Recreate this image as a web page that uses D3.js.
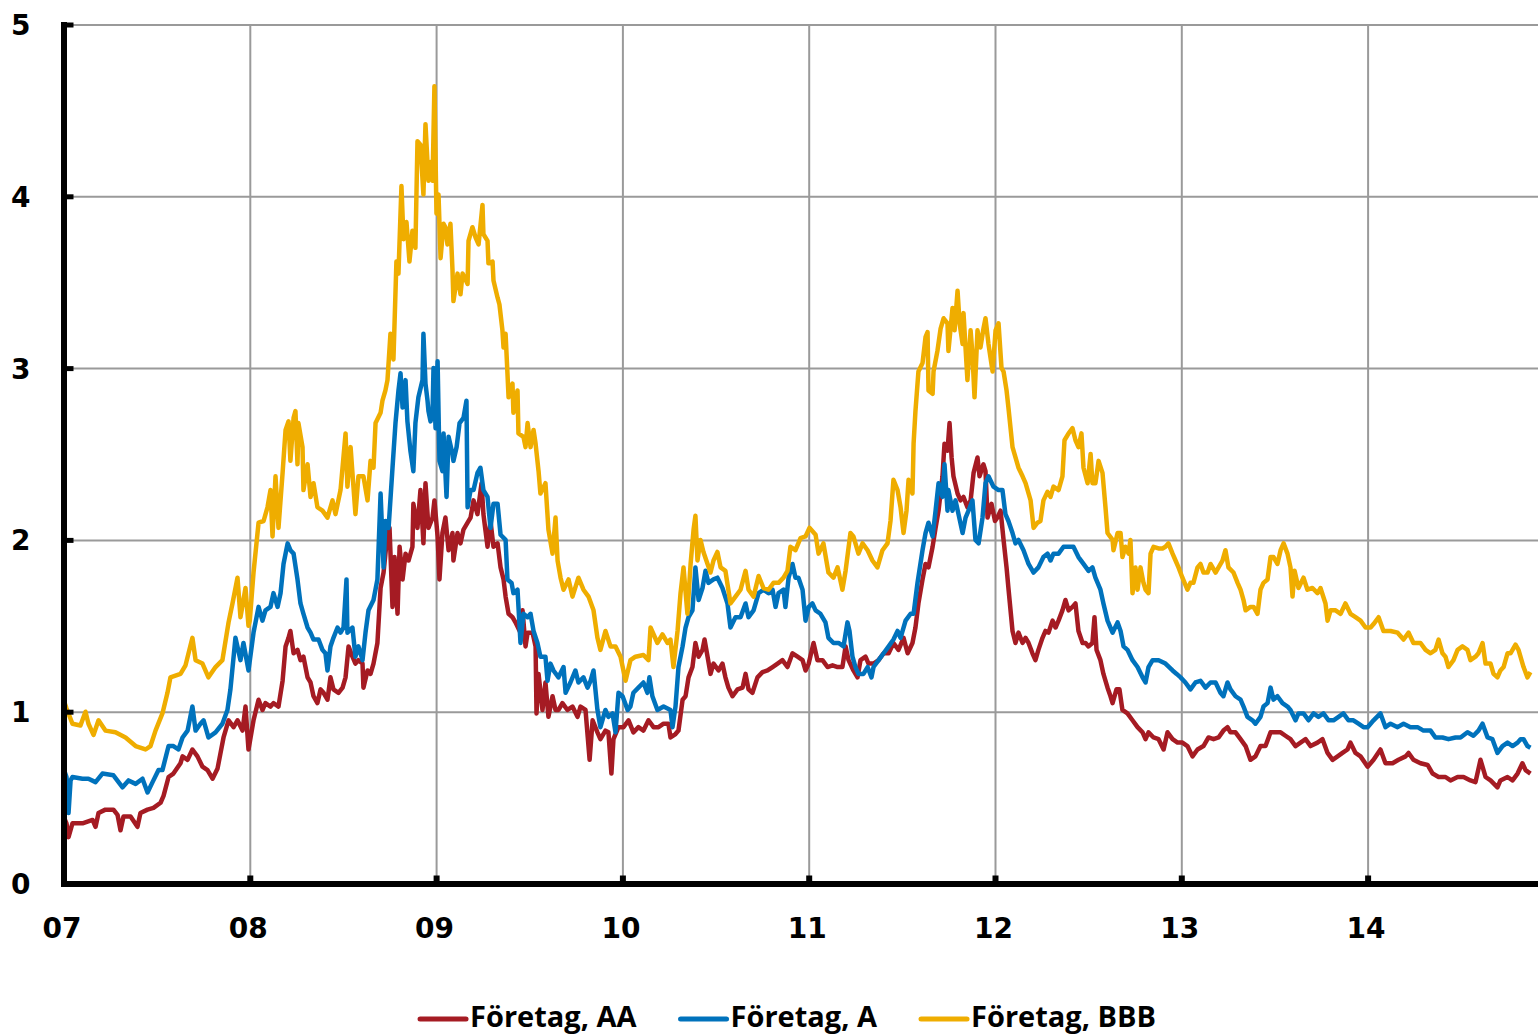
<!DOCTYPE html>
<html>
<head>
<meta charset="utf-8">
<script src="https://cdn.jsdelivr.net/npm/d3@7"></script>
<style>
  body { margin: 0; background: #fff; }
  .tick text { font-family: "DejaVu Sans", sans-serif; font-weight: bold; font-size: 28px; fill: #000; }
  .legend text { font-family: "Open Sans", sans-serif; font-weight: 700; font-size: 29px; fill: #000; }
</style>
</head>
<body>
<div id="chart"></div>
<script>
var svgWidth = 1538;
var svgHeight = 1036;

// values, [year, percent]
var foretagAA = [[2007.000,0.39],[2007.016,0.35],[2007.027,0.27],[2007.048,0.35],[2007.102,0.35],[2007.156,0.37],[2007.172,0.33],[2007.188,0.41],[2007.225,0.43],[2007.268,0.43],[2007.290,0.40],[2007.306,0.31],[2007.322,0.39],[2007.360,0.39],[2007.397,0.33],[2007.413,0.41],[2007.451,0.43],[2007.483,0.44],[2007.521,0.47],[2007.537,0.51],[2007.564,0.62],[2007.590,0.64],[2007.628,0.70],[2007.639,0.74],[2007.666,0.72],[2007.692,0.78],[2007.719,0.74],[2007.746,0.68],[2007.773,0.66],[2007.800,0.61],[2007.827,0.67],[2007.843,0.76],[2007.859,0.85],[2007.886,0.95],[2007.913,0.91],[2007.934,0.95],[2007.961,0.89],[2007.977,1.03],[2007.993,0.78],
[2008.020,0.95],[2008.047,1.07],[2008.068,1.01],[2008.084,1.05],[2008.111,1.03],[2008.127,1.05],[2008.154,1.03],[2008.176,1.18],[2008.192,1.38],[2008.208,1.43],[2008.218,1.47],[2008.235,1.34],[2008.256,1.36],[2008.272,1.30],[2008.288,1.32],[2008.310,1.20],[2008.326,1.17],[2008.342,1.09],[2008.363,1.05],[2008.380,1.13],[2008.396,1.11],[2008.417,1.07],[2008.433,1.20],[2008.449,1.13],[2008.476,1.11],[2008.498,1.14],[2008.514,1.20],[2008.530,1.38],[2008.551,1.32],[2008.567,1.28],[2008.583,1.30],[2008.605,1.28],[2008.610,1.14],[2008.632,1.24],[2008.648,1.22],[2008.664,1.28],[2008.685,1.40],[2008.702,1.72],[2008.718,1.81],[2008.739,2.04],[2008.750,2.07],[2008.766,1.61],[2008.777,1.90],[2008.793,1.57],[2008.804,1.96],[2008.820,1.77],[2008.836,1.92],[2008.852,1.88],[2008.873,1.96],[2008.878,2.21],[2008.900,2.07],[2008.916,2.29],[2008.932,1.98],[2008.943,2.33],[2008.959,2.07],[2008.981,2.13],[2008.991,2.23],
[2009.008,2.02],[2009.018,1.77],[2009.034,2.04],[2009.050,2.13],[2009.067,1.94],[2009.088,2.04],[2009.093,1.88],[2009.115,2.04],[2009.131,1.98],[2009.147,2.06],[2009.169,2.10],[2009.185,2.13],[2009.201,2.23],[2009.222,2.15],[2009.244,2.33],[2009.254,2.15],[2009.276,1.96],[2009.292,2.11],[2009.308,1.96],[2009.330,1.98],[2009.346,1.84],[2009.362,1.77],[2009.373,1.67],[2009.389,1.57],[2009.410,1.55],[2009.426,1.52],[2009.453,1.46],[2009.464,1.59],[2009.480,1.38],[2009.491,1.46],[2009.518,1.46],[2009.534,1.38],[2009.539,0.99],[2009.550,1.22],[2009.571,1.01],[2009.587,1.17],[2009.603,0.97],[2009.625,1.09],[2009.641,1.01],[2009.657,1.01],[2009.678,1.05],[2009.705,1.01],[2009.732,1.03],[2009.759,0.97],[2009.775,1.03],[2009.802,1.01],[2009.824,0.72],[2009.840,0.95],[2009.866,0.88],[2009.882,0.84],[2009.909,0.89],[2009.925,0.88],[2009.941,0.64],[2009.952,0.84],[2009.979,0.91],
[2010.006,0.91],[2010.033,0.95],[2010.059,0.88],[2010.086,0.91],[2010.113,0.89],[2010.140,0.95],[2010.167,0.91],[2010.194,0.91],[2010.221,0.93],[2010.247,0.93],[2010.258,0.85],[2010.285,0.87],[2010.301,0.89],[2010.323,1.07],[2010.339,1.09],[2010.355,1.20],[2010.376,1.26],[2010.392,1.40],[2010.409,1.32],[2010.430,1.36],[2010.441,1.42],[2010.457,1.32],[2010.473,1.22],[2010.489,1.28],[2010.516,1.24],[2010.537,1.28],[2010.553,1.20],[2010.569,1.14],[2010.591,1.09],[2010.618,1.13],[2010.645,1.14],[2010.661,1.22],[2010.677,1.13],[2010.698,1.11],[2010.725,1.20],[2010.752,1.23],[2010.779,1.24],[2010.806,1.26],[2010.833,1.28],[2010.859,1.30],[2010.886,1.26],[2010.913,1.34],[2010.940,1.32],[2010.967,1.30],[2010.983,1.24],
[2011.000,1.28],[2011.026,1.40],[2011.047,1.30],[2011.074,1.30],[2011.101,1.26],[2011.128,1.27],[2011.155,1.26],[2011.181,1.26],[2011.198,1.38],[2011.214,1.30],[2011.240,1.24],[2011.262,1.20],[2011.278,1.30],[2011.305,1.32],[2011.321,1.28],[2011.348,1.28],[2011.375,1.30],[2011.402,1.34],[2011.429,1.34],[2011.455,1.40],[2011.482,1.36],[2011.509,1.43],[2011.531,1.34],[2011.557,1.40],[2011.573,1.49],[2011.589,1.63],[2011.611,1.77],[2011.627,1.86],[2011.643,1.84],[2011.665,1.96],[2011.681,2.07],[2011.697,2.17],[2011.718,2.37],[2011.729,2.56],[2011.745,2.52],[2011.756,2.68],[2011.767,2.48],[2011.777,2.37],[2011.799,2.27],[2011.815,2.23],[2011.831,2.25],[2011.852,2.19],[2011.869,2.23],[2011.885,2.39],[2011.906,2.48],[2011.917,2.37],[2011.938,2.44],[2011.949,2.40],[2011.960,2.13],[2011.981,2.21],
[2012.000,2.11],[2012.013,2.13],[2012.030,2.17],[2012.046,2.00],[2012.062,1.84],[2012.072,1.72],[2012.094,1.47],[2012.110,1.40],[2012.126,1.46],[2012.148,1.40],[2012.164,1.43],[2012.180,1.40],[2012.201,1.34],[2012.217,1.30],[2012.233,1.36],[2012.255,1.43],[2012.271,1.47],[2012.287,1.46],[2012.309,1.53],[2012.325,1.49],[2012.341,1.53],[2012.362,1.59],[2012.378,1.65],[2012.395,1.59],[2012.416,1.61],[2012.432,1.63],[2012.448,1.47],[2012.470,1.40],[2012.486,1.40],[2012.502,1.38],[2012.523,1.40],[2012.534,1.55],[2012.545,1.36],[2012.566,1.30],[2012.582,1.22],[2012.604,1.14],[2012.620,1.09],[2012.631,1.05],[2012.652,1.13],[2012.668,1.13],[2012.684,1.01],[2012.711,0.99],[2012.738,0.95],[2012.765,0.91],[2012.792,0.88],[2012.808,0.84],[2012.824,0.88],[2012.851,0.85],[2012.878,0.84],[2012.905,0.78],[2012.926,0.88],[2012.953,0.84],[2012.980,0.82],
[2013.006,0.82],[2013.033,0.80],[2013.060,0.74],[2013.087,0.78],[2013.119,0.80],[2013.146,0.85],[2013.173,0.84],[2013.200,0.85],[2013.226,0.89],[2013.248,0.91],[2013.264,0.88],[2013.291,0.88],[2013.318,0.84],[2013.345,0.80],[2013.371,0.72],[2013.398,0.74],[2013.425,0.80],[2013.452,0.80],[2013.479,0.88],[2013.506,0.88],[2013.533,0.88],[2013.559,0.86],[2013.586,0.84],[2013.613,0.80],[2013.640,0.82],[2013.667,0.84],[2013.694,0.80],[2013.731,0.82],[2013.758,0.84],[2013.785,0.76],[2013.812,0.72],[2013.839,0.74],[2013.865,0.76],[2013.892,0.78],[2013.908,0.82],[2013.935,0.76],[2013.962,0.74],
[2014.000,0.68],[2014.032,0.72],[2014.069,0.78],[2014.096,0.70],[2014.134,0.70],[2014.166,0.72],[2014.204,0.74],[2014.220,0.76],[2014.246,0.72],[2014.284,0.70],[2014.322,0.69],[2014.349,0.64],[2014.381,0.62],[2014.418,0.62],[2014.445,0.60],[2014.483,0.62],[2014.515,0.62],[2014.552,0.60],[2014.579,0.59],[2014.606,0.72],[2014.633,0.62],[2014.660,0.60],[2014.697,0.56],[2014.713,0.60],[2014.751,0.62],[2014.778,0.60],[2014.805,0.64],[2014.831,0.70],[2014.848,0.66],[2014.874,0.64]];

var foretagA = [[2007.000,0.67],[2007.016,0.62],[2007.027,0.41],[2007.038,0.60],[2007.048,0.62],[2007.102,0.61],[2007.134,0.61],[2007.172,0.59],[2007.209,0.64],[2007.268,0.63],[2007.317,0.56],[2007.349,0.60],[2007.387,0.58],[2007.424,0.61],[2007.451,0.53],[2007.478,0.59],[2007.510,0.66],[2007.531,0.66],[2007.564,0.80],[2007.590,0.80],[2007.617,0.78],[2007.639,0.85],[2007.666,0.89],[2007.692,1.03],[2007.709,0.89],[2007.735,0.93],[2007.752,0.95],[2007.778,0.85],[2007.816,0.88],[2007.853,0.93],[2007.880,1.01],[2007.896,1.13],[2007.923,1.43],[2007.950,1.30],[2007.966,1.40],[2007.993,1.24],
[2008.020,1.46],[2008.047,1.61],[2008.068,1.53],[2008.084,1.59],[2008.111,1.61],[2008.127,1.69],[2008.149,1.61],[2008.165,1.69],[2008.181,1.86],[2008.203,1.98],[2008.218,1.94],[2008.235,1.92],[2008.256,1.77],[2008.272,1.63],[2008.288,1.57],[2008.310,1.49],[2008.326,1.46],[2008.342,1.42],[2008.369,1.42],[2008.390,1.36],[2008.406,1.34],[2008.417,1.24],[2008.433,1.38],[2008.449,1.43],[2008.471,1.49],[2008.487,1.46],[2008.503,1.49],[2008.519,1.77],[2008.524,1.46],[2008.551,1.49],[2008.567,1.32],[2008.583,1.38],[2008.605,1.30],[2008.621,1.46],[2008.637,1.59],[2008.664,1.65],[2008.685,1.77],[2008.702,2.27],[2008.718,1.84],[2008.728,2.11],[2008.745,2.07],[2008.766,2.42],[2008.782,2.68],[2008.798,2.87],[2008.809,2.97],[2008.820,2.77],[2008.836,2.93],[2008.846,2.69],[2008.862,2.52],[2008.878,2.40],[2008.889,2.68],[2008.905,2.83],[2008.927,2.93],[2008.932,3.20],[2008.943,2.91],[2008.954,2.81],[2008.959,2.75],[2008.970,2.69],[2008.981,2.74],[2008.986,3.00],[2008.997,2.65],
[2009.008,3.04],[2009.018,2.46],[2009.034,2.40],[2009.040,2.62],[2009.056,2.25],[2009.067,2.60],[2009.088,2.50],[2009.093,2.46],[2009.110,2.54],[2009.126,2.68],[2009.147,2.71],[2009.163,2.81],[2009.169,2.19],[2009.185,2.29],[2009.201,2.29],[2009.222,2.39],[2009.238,2.42],[2009.254,2.29],[2009.276,2.25],[2009.292,2.07],[2009.308,2.21],[2009.330,2.21],[2009.346,2.03],[2009.373,2.00],[2009.383,1.77],[2009.405,1.75],[2009.415,1.69],[2009.437,1.71],[2009.453,1.40],[2009.469,1.57],[2009.491,1.55],[2009.507,1.57],[2009.523,1.47],[2009.544,1.40],[2009.560,1.32],[2009.587,1.32],[2009.598,1.18],[2009.614,1.28],[2009.630,1.24],[2009.657,1.20],[2009.684,1.26],[2009.695,1.11],[2009.721,1.17],[2009.748,1.24],[2009.764,1.17],[2009.791,1.20],[2009.813,1.14],[2009.829,1.18],[2009.845,1.24],[2009.866,1.01],[2009.882,0.91],[2009.909,1.01],[2009.925,0.97],[2009.947,0.99],[2009.963,0.88],[2009.979,1.11],
[2010.001,1.09],[2010.028,1.01],[2010.043,1.03],[2010.059,1.11],[2010.086,1.14],[2010.113,1.17],[2010.134,1.11],[2010.145,1.20],[2010.161,1.09],[2010.188,1.01],[2010.221,1.03],[2010.258,1.01],[2010.269,0.91],[2010.285,1.03],[2010.301,1.26],[2010.323,1.38],[2010.339,1.49],[2010.355,1.55],[2010.376,1.59],[2010.392,1.84],[2010.409,1.65],[2010.430,1.72],[2010.446,1.82],[2010.462,1.75],[2010.489,1.77],[2010.510,1.78],[2010.537,1.72],[2010.564,1.63],[2010.580,1.49],[2010.607,1.55],[2010.634,1.55],[2010.661,1.63],[2010.677,1.55],[2010.704,1.59],[2010.731,1.69],[2010.757,1.71],[2010.784,1.69],[2010.806,1.71],[2010.822,1.61],[2010.838,1.69],[2010.865,1.71],[2010.875,1.61],[2010.892,1.78],[2010.913,1.86],[2010.929,1.78],[2010.945,1.78],[2010.967,1.71],[2010.983,1.53],
[2011.000,1.61],[2011.020,1.63],[2011.037,1.59],[2011.063,1.57],[2011.090,1.52],[2011.106,1.43],[2011.133,1.40],[2011.160,1.40],[2011.187,1.38],[2011.208,1.52],[2011.219,1.47],[2011.235,1.32],[2011.251,1.26],[2011.267,1.22],[2011.294,1.22],[2011.316,1.26],[2011.337,1.20],[2011.348,1.26],[2011.375,1.30],[2011.402,1.34],[2011.429,1.38],[2011.455,1.42],[2011.477,1.47],[2011.493,1.43],[2011.520,1.53],[2011.547,1.57],[2011.563,1.57],[2011.584,1.75],[2011.611,1.94],[2011.627,2.04],[2011.643,2.10],[2011.665,2.02],[2011.681,2.17],[2011.697,2.33],[2011.718,2.25],[2011.729,2.44],[2011.745,2.17],[2011.750,2.29],[2011.772,2.17],[2011.788,2.23],[2011.804,2.15],[2011.826,2.04],[2011.842,2.13],[2011.858,2.17],[2011.879,2.23],[2011.895,2.00],[2011.912,1.98],[2011.933,2.13],[2011.949,2.33],[2011.965,2.37],[2011.992,2.31],
[2012.019,2.29],[2012.040,2.29],[2012.056,2.15],[2012.072,2.11],[2012.094,2.04],[2012.110,1.98],[2012.126,2.00],[2012.153,1.94],[2012.180,1.86],[2012.207,1.81],[2012.233,1.84],[2012.260,1.90],[2012.282,1.92],[2012.298,1.88],[2012.314,1.92],[2012.341,1.92],[2012.368,1.96],[2012.395,1.96],[2012.421,1.96],[2012.448,1.90],[2012.475,1.86],[2012.502,1.82],[2012.523,1.84],[2012.539,1.78],[2012.566,1.71],[2012.582,1.63],[2012.604,1.53],[2012.631,1.46],[2012.658,1.52],[2012.674,1.47],[2012.690,1.38],[2012.711,1.36],[2012.738,1.30],[2012.765,1.26],[2012.792,1.20],[2012.808,1.17],[2012.824,1.26],[2012.846,1.30],[2012.878,1.30],[2012.915,1.28],[2012.953,1.24],[2012.975,1.22],[2012.996,1.20],
[2013.022,1.17],[2013.049,1.13],[2013.076,1.17],[2013.103,1.18],[2013.130,1.14],[2013.157,1.17],[2013.184,1.17],[2013.210,1.11],[2013.226,1.09],[2013.248,1.17],[2013.264,1.13],[2013.291,1.09],[2013.318,1.07],[2013.334,1.03],[2013.355,0.97],[2013.382,0.95],[2013.398,0.93],[2013.425,0.97],[2013.441,1.03],[2013.463,1.05],[2013.479,1.14],[2013.495,1.07],[2013.516,1.09],[2013.543,1.05],[2013.570,1.03],[2013.586,1.01],[2013.613,0.95],[2013.629,0.99],[2013.656,0.99],[2013.683,0.95],[2013.710,0.99],[2013.736,0.97],[2013.763,0.99],[2013.790,0.95],[2013.817,0.95],[2013.844,0.97],[2013.870,0.99],[2013.897,0.95],[2013.924,0.95],[2013.951,0.93],[2013.978,0.91],
[2014.000,0.91],[2014.032,0.95],[2014.069,0.99],[2014.096,0.91],[2014.123,0.93],[2014.161,0.91],[2014.193,0.93],[2014.230,0.91],[2014.268,0.91],[2014.300,0.89],[2014.338,0.89],[2014.364,0.85],[2014.402,0.85],[2014.434,0.84],[2014.472,0.85],[2014.499,0.85],[2014.536,0.88],[2014.568,0.86],[2014.595,0.89],[2014.617,0.93],[2014.644,0.85],[2014.670,0.84],[2014.697,0.76],[2014.724,0.80],[2014.751,0.82],[2014.778,0.80],[2014.805,0.82],[2014.821,0.84],[2014.837,0.84],[2014.858,0.80],[2014.874,0.79]];

var foretagBBB = [[2007.000,1.07],[2007.016,1.02],[2007.048,0.93],[2007.091,0.92],[2007.118,1.00],[2007.134,0.93],[2007.161,0.865],[2007.188,0.95],[2007.225,0.89],[2007.279,0.88],[2007.333,0.85],[2007.387,0.80],[2007.440,0.78],[2007.467,0.80],[2007.494,0.89],[2007.531,0.99],[2007.558,1.11],[2007.574,1.20],[2007.628,1.22],[2007.655,1.27],[2007.692,1.43],[2007.709,1.30],[2007.746,1.28],[2007.778,1.20],[2007.816,1.26],[2007.853,1.30],[2007.886,1.52],[2007.907,1.63],[2007.934,1.78],[2007.950,1.55],[2007.977,1.72],[2007.993,1.50],
[2008.000,1.53],[2008.020,1.81],[2008.047,2.10],[2008.074,2.11],[2008.095,2.19],[2008.111,2.29],[2008.122,2.02],[2008.138,2.37],[2008.154,2.07],[2008.176,2.39],[2008.192,2.64],[2008.208,2.69],[2008.218,2.46],[2008.235,2.71],[2008.245,2.75],[2008.256,2.44],[2008.261,2.68],[2008.283,2.54],[2008.288,2.29],[2008.310,2.44],[2008.326,2.25],[2008.342,2.33],[2008.363,2.19],[2008.390,2.17],[2008.417,2.13],[2008.444,2.23],[2008.460,2.15],[2008.487,2.29],[2008.514,2.62],[2008.524,2.31],[2008.541,2.54],[2008.567,2.15],[2008.583,2.37],[2008.610,2.37],[2008.632,2.23],[2008.648,2.46],[2008.664,2.42],[2008.675,2.68],[2008.702,2.74],[2008.712,2.81],[2008.728,2.87],[2008.739,2.93],[2008.755,3.20],[2008.771,3.05],[2008.787,3.62],[2008.798,3.55],[2008.814,4.06],[2008.825,3.75],[2008.841,3.85],[2008.857,3.62],[2008.873,3.80],[2008.889,3.70],[2008.900,4.32],[2008.916,4.30],[2008.932,4.01],[2008.943,4.42],[2008.959,4.09],[2008.970,4.20],[2008.981,4.09],[2008.991,4.64],
[2009.002,3.90],[2009.013,4.01],[2009.024,3.64],[2009.040,3.84],[2009.050,3.82],[2009.061,3.72],[2009.077,3.84],[2009.088,3.57],[2009.093,3.39],[2009.115,3.55],[2009.131,3.43],[2009.142,3.55],[2009.169,3.49],[2009.174,3.74],[2009.195,3.82],[2009.212,3.76],[2009.228,3.72],[2009.249,3.95],[2009.254,3.78],[2009.276,3.74],[2009.281,3.61],[2009.303,3.62],[2009.308,3.51],[2009.330,3.41],[2009.340,3.37],[2009.356,3.22],[2009.362,3.12],[2009.373,3.20],[2009.389,2.83],[2009.410,2.91],[2009.415,2.74],[2009.437,2.87],[2009.442,2.62],[2009.469,2.60],[2009.480,2.54],[2009.491,2.68],[2009.507,2.54],[2009.523,2.64],[2009.534,2.56],[2009.550,2.40],[2009.560,2.27],[2009.587,2.33],[2009.603,2.06],[2009.625,1.92],[2009.641,2.13],[2009.652,1.88],[2009.668,1.78],[2009.684,1.71],[2009.711,1.77],[2009.732,1.67],[2009.764,1.78],[2009.791,1.71],[2009.818,1.67],[2009.845,1.59],[2009.866,1.43],[2009.882,1.36],[2009.909,1.47],[2009.936,1.38],[2009.963,1.38],[2009.990,1.32],
[2010.017,1.18],[2010.043,1.30],[2010.070,1.32],[2010.113,1.33],[2010.140,1.30],[2010.151,1.49],[2010.188,1.40],[2010.215,1.45],[2010.242,1.40],[2010.258,1.42],[2010.274,1.26],[2010.296,1.47],[2010.312,1.69],[2010.328,1.84],[2010.349,1.57],[2010.366,1.86],[2010.382,2.06],[2010.392,2.14],[2010.403,1.88],[2010.419,2.00],[2010.435,1.93],[2010.457,1.86],[2010.473,1.81],[2010.489,1.88],[2010.510,1.93],[2010.527,1.84],[2010.553,1.82],[2010.580,1.63],[2010.607,1.67],[2010.634,1.71],[2010.661,1.82],[2010.677,1.71],[2010.704,1.67],[2010.731,1.79],[2010.757,1.72],[2010.784,1.71],[2010.811,1.75],[2010.838,1.75],[2010.865,1.78],[2010.886,1.82],[2010.902,1.96],[2010.929,1.94],[2010.956,2.01],[2010.983,2.02],
[2011.004,2.07],[2011.037,2.03],[2011.053,1.92],[2011.079,1.98],[2011.106,1.81],[2011.133,1.78],[2011.155,1.84],[2011.181,1.71],[2011.198,1.82],[2011.224,2.04],[2011.240,2.02],[2011.267,1.92],[2011.289,1.98],[2011.316,1.94],[2011.342,1.88],[2011.369,1.84],[2011.396,1.94],[2011.423,1.98],[2011.439,2.11],[2011.455,2.35],[2011.477,2.29],[2011.493,2.19],[2011.509,2.04],[2011.525,2.17],[2011.536,2.35],[2011.557,2.27],[2011.563,2.56],[2011.573,2.75],[2011.589,2.98],[2011.611,3.03],[2011.627,3.18],[2011.638,3.21],[2011.643,2.87],[2011.665,2.85],[2011.670,2.98],[2011.691,3.10],[2011.708,3.23],[2011.724,3.29],[2011.745,3.26],[2011.750,3.10],[2011.772,3.35],[2011.783,3.22],[2011.799,3.45],[2011.810,3.26],[2011.826,3.14],[2011.831,3.32],[2011.852,2.93],[2011.869,3.22],[2011.879,3.08],[2011.890,2.83],[2011.906,3.22],[2011.922,3.12],[2011.938,3.23],[2011.949,3.29],[2011.965,3.14],[2011.987,2.98],
[2012.003,3.22],[2012.019,3.26],[2012.035,3.00],[2012.046,2.98],[2012.062,2.87],[2012.072,2.77],[2012.094,2.54],[2012.110,2.48],[2012.126,2.42],[2012.148,2.37],[2012.164,2.33],[2012.191,2.23],[2012.207,2.07],[2012.228,2.10],[2012.244,2.11],[2012.260,2.23],[2012.282,2.28],[2012.298,2.25],[2012.314,2.31],[2012.341,2.29],[2012.362,2.37],[2012.373,2.58],[2012.395,2.62],[2012.416,2.65],[2012.432,2.58],[2012.448,2.54],[2012.464,2.62],[2012.475,2.42],[2012.497,2.33],[2012.513,2.50],[2012.523,2.33],[2012.539,2.33],[2012.556,2.46],[2012.577,2.39],[2012.593,2.19],[2012.604,2.04],[2012.631,2.00],[2012.636,1.94],[2012.658,2.04],[2012.674,2.04],[2012.684,1.90],[2012.700,1.96],[2012.717,1.92],[2012.727,2.00],[2012.738,1.69],[2012.754,1.84],[2012.765,1.71],[2012.781,1.84],[2012.797,1.75],[2012.808,1.71],[2012.824,1.69],[2012.835,1.92],[2012.851,1.96],[2012.878,1.95],[2012.899,1.95],[2012.915,1.96],[2012.931,1.98],[2012.953,1.92],[2012.969,1.88],[2012.985,1.84],
[2013.006,1.78],[2013.033,1.71],[2013.049,1.75],[2013.065,1.75],[2013.087,1.84],[2013.103,1.86],[2013.119,1.81],[2013.141,1.81],[2013.157,1.86],[2013.184,1.81],[2013.200,1.84],[2013.221,1.88],[2013.237,1.94],[2013.253,1.84],[2013.280,1.81],[2013.302,1.75],[2013.318,1.71],[2013.334,1.65],[2013.345,1.59],[2013.371,1.61],[2013.388,1.61],[2013.409,1.57],[2013.425,1.71],[2013.441,1.75],[2013.463,1.77],[2013.479,1.90],[2013.495,1.90],[2013.516,1.86],[2013.533,1.94],[2013.549,1.98],[2013.570,1.92],[2013.586,1.84],[2013.597,1.67],[2013.608,1.82],[2013.629,1.72],[2013.656,1.78],[2013.677,1.71],[2013.704,1.72],[2013.731,1.69],[2013.747,1.72],[2013.774,1.63],[2013.785,1.53],[2013.801,1.59],[2013.828,1.59],[2013.855,1.57],[2013.881,1.63],[2013.908,1.57],[2013.935,1.55],[2013.962,1.53],[2013.989,1.49],
[2014.016,1.49],[2014.032,1.51],[2014.059,1.55],[2014.085,1.47],[2014.123,1.47],[2014.161,1.46],[2014.193,1.42],[2014.220,1.46],[2014.246,1.40],[2014.284,1.40],[2014.311,1.36],[2014.338,1.34],[2014.364,1.36],[2014.381,1.42],[2014.402,1.34],[2014.418,1.32],[2014.434,1.26],[2014.461,1.30],[2014.483,1.36],[2014.509,1.38],[2014.536,1.36],[2014.552,1.30],[2014.579,1.32],[2014.595,1.34],[2014.617,1.40],[2014.633,1.28],[2014.660,1.28],[2014.676,1.22],[2014.697,1.20],[2014.713,1.24],[2014.730,1.26],[2014.751,1.34],[2014.767,1.34],[2014.794,1.39],[2014.810,1.36],[2014.837,1.26],[2014.858,1.20],[2014.874,1.23]];

var seriesNames = ["Företag, AA", "Företag, A", "Företag, BBB"];
var seriesColors = ["#a51b23", "#0072bc", "#efad00"];
var yTicks = [0, 1, 2, 3, 4, 5];
var years = [2007, 2008, 2009, 2010, 2011, 2012, 2013, 2014];
var yearLabels = ["07", "08", "09", "10", "11", "12", "13", "14"];

var margin = { top: 24.5, left: 63.5 };
var width = 1475.5;
var height = 859;

var svg = d3.select("#chart")
  .append("svg")
  .attr("width", svgWidth)
  .attr("height", svgHeight);

var chartGroup = svg.append("g")
  .attr("transform", `translate(${margin.left}, ${margin.top})`);

var xScale = d3.scaleLinear()
  .domain([2007, 2014.92])
  .range([0, width]);

var yScale = d3.scaleLinear()
  .domain([0, 5])
  .range([height, 0]);

// gridlines
chartGroup.append("g")
  .attr("class", "grid")
  .call(d3.axisLeft(yScale).tickValues(yTicks.slice(1)).tickSize(-width).tickFormat(""))
  .call(g => g.select(".domain").remove())
  .selectAll("line").attr("stroke", "#9a9a9a").attr("stroke-width", 2);

chartGroup.append("g")
  .attr("class", "grid")
  .attr("transform", `translate(0, ${height})`)
  .call(d3.axisBottom(xScale).tickValues(years.slice(1)).tickSize(height).tickFormat(""))
  .call(g => g.select(".domain").remove())
  .selectAll("line").attr("stroke", "#9a9a9a").attr("stroke-width", 2)
  .attr("y2", -height);

// lines
var line = d3.line()
  .x(d => xScale(d[0]))
  .y(d => yScale(d[1]));

[foretagAA, foretagA, foretagBBB].forEach(function(data, i) {
  chartGroup.append("path")
    .datum(data)
    .attr("fill", "none")
    .attr("stroke", seriesColors[i])
    .attr("stroke-width", 4.5)
    .attr("stroke-linejoin", "round")
    .attr("d", line);
});

// axes
var xAxis = chartGroup.append("g")
  .attr("transform", `translate(0, ${height})`)
  .call(d3.axisBottom(xScale).tickValues(years).tickSize(-8).tickSizeOuter(0).tickPadding(35)
    .tickFormat((d, i) => yearLabels[i]));
xAxis.select(".domain").attr("stroke", "#000").attr("stroke-width", 6);
xAxis.selectAll(".tick line").attr("stroke", "#000").attr("stroke-width", 6);
xAxis.selectAll(".tick text").attr("dx", "-2");

var yAxis = chartGroup.append("g")
  .call(d3.axisLeft(yScale).tickValues(yTicks).tickSize(-10).tickSizeOuter(0).tickPadding(33)
    .tickFormat(d3.format("d")));
yAxis.select(".domain").attr("stroke", "#000").attr("stroke-width", 6).attr("stroke-linecap", "square");
yAxis.selectAll(".tick line").attr("stroke", "#000").attr("stroke-width", 5);
yAxis.selectAll(".tick text").attr("dy", "0.36em");
svg.selectAll(".tick text").attr("font-family", null).attr("font-size", null);

// legend
var legend = svg.append("g").attr("class", "legend");
var xPos = 0;
seriesNames.forEach(function(name, i) {
  var item = legend.append("g").attr("transform", `translate(${xPos}, 0)`);
  item.append("line")
    .attr("x1", 0).attr("x2", 46)
    .attr("y1", 0).attr("y2", 0)
    .attr("stroke", seriesColors[i])
    .attr("stroke-width", 5)
    .attr("stroke-linecap", "round");
  var t = item.append("text")
    .attr("x", 50)
    .attr("y", 8)
    .text(name);
  xPos += 50 + t.node().getComputedTextLength() + 44;
});
var legendWidth = xPos - 44;
legend.attr("transform", `translate(${788 - legendWidth / 2}, 1019)`);
</script>
</body>
</html>
